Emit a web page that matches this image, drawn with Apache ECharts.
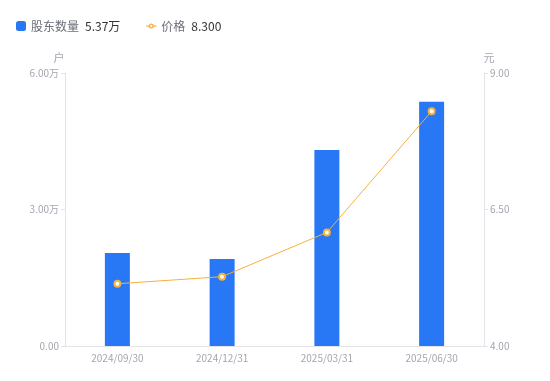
<!DOCTYPE html>
<html>
<head>
<meta charset="utf-8">
<script src="https://cdn.jsdelivr.net/npm/echarts@6/dist/echarts.min.js"></script>
<style>
  html, body { margin: 0; padding: 0; background: #fff; }
  #main { width: 550px; height: 381px; }
</style>
</head>
<body>
<div id="main"></div>
<script>
// 股东户数 vs 股价
var categories = ['2024/09/30', '2024/12/31', '2025/03/31', '2025/06/30'];
var holders = [20450, 19120, 43080, 53700];
var prices = [5.14, 5.27, 6.08, 8.30];
var leftTicks = [0, 30000, 60000];
var rightTicks = [4, 6.5, 9];

var dom = document.getElementById('main');
var myChart = echarts.init(dom);
var font = '"Noto Sans CJK SC", "Noto Sans", sans-serif';

// little line + hollow circle, like the reference legend
var lineIcon = 'path://M0,4 H3.2 V5.5 H0 Z M8.8,4 H12 V5.5 H8.8 Z ' +
    'M3,4.75 A3,3 0 1,1 9,4.75 A3,3 0 1,1 3,4.75 Z ' +
    'M4.6,4.75 A1.4,1.4 0 1,0 7.4,4.75 A1.4,1.4 0 1,0 4.6,4.75 Z';

var option = {
    textStyle: { fontFamily: font },
    legend: {
        left: 11,
        top: 15,
        itemWidth: 10,
        itemHeight: 10,
        itemGap: 26,
        textStyle: {
            fontFamily: font,
            fontSize: 12,
            rich: {
                n: { color: '#6b6e78', fontSize: 12, fontFamily: font },
                v: { color: '#333333', fontSize: 12, fontFamily: font, padding: [0, 0, 0, 6] }
            }
        },
        formatter: function (name) {
            if (name === '股东数量') {
                return '{n|' + name + '}{v|' + (holders[holders.length - 1] / 10000).toFixed(2) + '万}';
            }
            return '{n|' + name + '}{v|' + prices[prices.length - 1].toFixed(3) + '}';
        },
        data: [
            { name: '股东数量', icon: 'roundRect' },
            { name: '价格', icon: lineIcon, itemStyle: { color: '#f6b03c', borderWidth: 0 } }
        ]
    },
    grid: {
        left: 65,
        right: 66,
        top: 73,
        bottom: 35
    },
    xAxis: {
        type: 'category',
        data: categories,
        axisLine: { lineStyle: { color: '#e3e4e8' } },
        axisTick: { show: false },
        axisLabel: { color: '#a3a6b0', fontSize: 10, margin: 7 }
    },
    yAxis: [
        {
            type: 'value',
            name: '户',
            nameGap: 10,
            nameTextStyle: { color: '#a3a6b0', fontSize: 11, padding: [0, 12, 0, 0] },
            min: leftTicks[0],
            max: leftTicks[leftTicks.length - 1],
            interval: leftTicks[1] - leftTicks[0],
            axisLine: { show: true, lineStyle: { color: '#e3e4e8' } },
            axisTick: { show: true, length: 4, lineStyle: { color: '#e3e4e8' } },
            splitLine: { show: false },
            axisLabel: {
                color: '#a3a6b0',
                fontSize: 10,
                margin: 6,
                formatter: function (v) {
                    return v === 0 ? '0.00' : (v / 10000).toFixed(2) + '万';
                }
            }
        },
        {
            type: 'value',
            name: '元',
            nameGap: 10,
            nameTextStyle: { color: '#a3a6b0', fontSize: 11, padding: [0, 0, 0, 10] },
            min: rightTicks[0],
            max: rightTicks[rightTicks.length - 1],
            interval: rightTicks[1] - rightTicks[0],
            axisLine: { show: true, lineStyle: { color: '#e3e4e8' } },
            axisTick: { show: true, length: 4, lineStyle: { color: '#e3e4e8' } },
            splitLine: { show: false },
            axisLabel: {
                color: '#a3a6b0',
                fontSize: 10,
                margin: 6,
                formatter: function (v) { return v.toFixed(2); }
            }
        }
    ],
    series: [
        {
            name: '股东数量',
            type: 'bar',
            yAxisIndex: 0,
            barWidth: 25,
            itemStyle: { color: '#2878f5' },
            data: holders
        },
        {
            name: '价格',
            type: 'line',
            yAxisIndex: 1,
            symbol: 'circle',
            symbolSize: 6,
            itemStyle: { color: '#ffffff', borderColor: '#f6b03c', borderWidth: 2 },
            lineStyle: { color: '#f6b03c', width: 1 },
            data: prices
        }
    ]
};

if (option && typeof option === 'object') {
    myChart.setOption(option);
}
</script>
</body>
</html>
